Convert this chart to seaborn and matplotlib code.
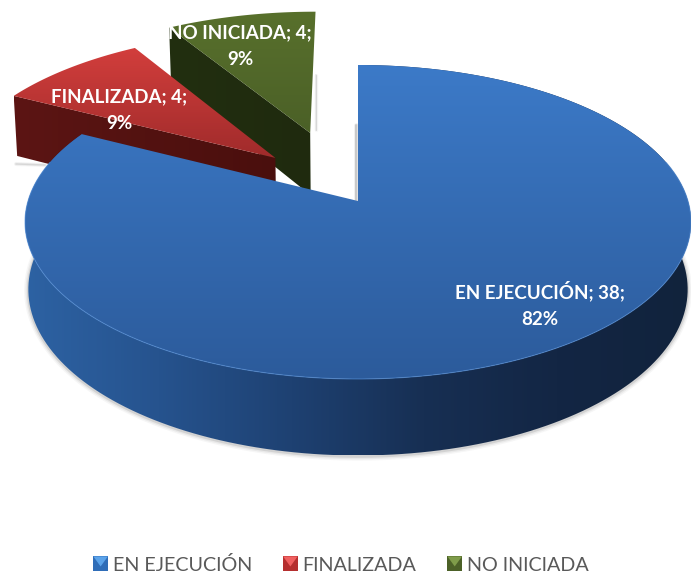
import numpy as np
import seaborn as sns
import matplotlib.pyplot as plt
from matplotlib.legend_handler import HandlerBase
from matplotlib.patches import Patch, Polygon, Rectangle

categories = ['EN EJECUCIÓN', 'FINALIZADA', 'NO INICIADA']
values = [38, 4, 4]
percents = [82, 9, 9]

# pie geometry in pixels
CX, CY, A, B = 358, 222, 333, 157
E = 21 / 157  # perspective, moves the apex above the ellipse centre
explode = [(0, 0), (-0.26, 0.29), (-0.154, 0.469)]
label_pos = [(540, 304), (119, 110), (240, 46)]

top_colors = [['#3c7ac8', '#2c5b9b'], ['#d23e3c', '#a02b2b'], ['#58702c', '#4b6027']]
wall_colors = [['#2d62a3', '#26538e', '#1e4172', '#172f53', '#132644', '#11233c'],
               ['#5c1514', '#4a0f0d'], ['#222f10', '#1f2a0e']]
legend_colors = [('#2f6db8', '#5ba3ea'), ('#b52f2f', '#f06060'), ('#4c6128', '#7f9c4a')]

sns.set_theme(style='white')
plt.rcParams['font.family'] = ['Lato', 'DejaVu Sans']


def project(u, v, lower=False):
    d = 1 + E * v
    x = CX + A * u * np.sqrt(1 - E ** 2) / d
    y = CY - B * (v + E) / d
    if lower:
        x = CX + (x - CX) * 0.99
        y = y + 56 + 0.058 * (y - 26)
    return np.column_stack([np.atleast_1d(x), np.atleast_1d(y)])


def rim(start, end, off, lower=False):
    t = np.radians(np.linspace(start, end, 200))
    return project(np.sin(t) + off[0], np.cos(t) + off[1], lower)


def gradient(ax, pts, colors, horizontal, z):
    cmap = sns.blend_palette(colors, as_cmap=True)
    x0, y0 = pts.min(axis=0)
    x1, y1 = pts.max(axis=0)
    ramp = np.linspace(0, 1, 256)
    ramp = ramp[None, :] if horizontal else ramp[:, None]
    im = ax.imshow(ramp, cmap=cmap, extent=(x0, x1, y1, y0), aspect='auto', zorder=z)
    poly = Polygon(pts, closed=True, fc='none', ec='none', zorder=z)
    ax.add_patch(poly)
    im.set_clip_path(poly)


class BevelHandler(HandlerBase):
    def create_artists(self, legend, orig, x, y, w, h, fontsize, trans):
        dark, light = orig.get_facecolor(), orig.get_edgecolor()
        box = Rectangle((x, y), w, h, fc=dark, ec='none', transform=trans)
        tri = Polygon([(x, y + h), (x + w, y + h), (x + w / 2, y + h * 0.3)],
                      fc=light, ec='none', transform=trans)
        return [box, tri]


fig = plt.figure(figsize=(6.91, 5.74), dpi=100)
ax = fig.add_axes([0, 0, 1, 1])

angles = np.concatenate([[0], np.cumsum(values) / np.sum(values) * 360])

# soft shadows behind the pie
front = rim(60, 297, explode[0], True)
for lw, alpha in [(6, 0.05), (4, 0.08), (2, 0.15)]:
    ax.plot(front[:, 0], front[:, 1] + 1, color='#555555', lw=lw, alpha=alpha, zorder=1)
    ax.plot([355.8, 355.8], [125, 200], color='#666666', lw=lw * 0.6, alpha=alpha * 1.5, zorder=1)
    ax.plot([316, 316], [75, 130], color='#666666', lw=lw * 0.4, alpha=alpha, zorder=1)
    ax.plot([16, 45], [164, 165], color='#666666', lw=lw * 0.5, alpha=alpha, zorder=1)

# back to front: green, red, blue
for i in [2, 1, 0]:
    off = explode[i]
    top_rim = rim(angles[i], angles[i + 1], off)
    apex = project(off[0], off[1])
    if i == 0:
        bottom_rim = rim(angles[i], angles[i + 1], off, True)
        wall = np.vstack([top_rim, bottom_rim[::-1]])
        gradient(ax, wall, wall_colors[i], True, 3 + 3 * (2 - i))
    else:
        # only the side along the slice's first edge faces the viewer
        edge_from = rim(angles[i], angles[i], off)[:1]
        edge_low = rim(angles[i], angles[i], off, True)[:1]
        wall = np.vstack([edge_from, apex, project(off[0], off[1], True), edge_low])
        gradient(ax, wall, wall_colors[i], True, 3 + 3 * (2 - i))
    top = np.vstack([apex, top_rim])
    gradient(ax, top, top_colors[i], False, 4 + 3 * (2 - i))

lit = rim(75, 285, explode[0])
ax.plot(lit[:, 0], lit[:, 1], color='#4f8bd6', lw=0.8, alpha=0.6, zorder=11)

for cat, val, pct, (x, y) in zip(categories, values, percents, label_pos):
    ax.text(x, y, f'{cat}; {val};\n{pct}%', color='white', fontsize=13.5, fontweight='bold',
            ha='center', va='center', linespacing=1.72, zorder=12)

handles = [Patch(facecolor=d, edgecolor=l, label=c) for c, (d, l) in zip(categories, legend_colors)]
ax.legend(handles=handles, handler_map={Patch: BevelHandler()}, loc='center',
          bbox_to_anchor=(341 / 691, 1 - 565 / 574), bbox_transform=ax.transAxes, ncols=3,
          frameon=False, fontsize=14.2, labelcolor='#595959', handlelength=0.74, handleheight=0.74,
          handletextpad=0.25, columnspacing=1.57)

ax.set_xlim(0, 691)
ax.set_ylim(574, 0)
ax.axis('off')
fig.savefig('out.png', dpi=100)
